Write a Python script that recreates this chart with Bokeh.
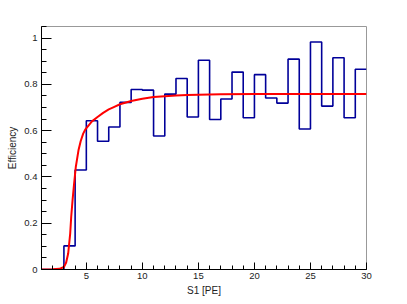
from bokeh.plotting import figure
from bokeh.embed import file_html
from bokeh.resources import INLINE
from bokeh.models import Range1d, FixedTicker

# Histogram: bin lower edges (width 1) and efficiency values
bin_edges = list(range(1, 31))
eff_values = [0.0, 0.0, 0.102, 0.43, 0.643, 0.554, 0.616, 0.722, 0.778, 0.775,
              0.577, 0.758, 0.825, 0.659, 0.904, 0.648, 0.737, 0.853, 0.656, 0.842,
              0.741, 0.719, 0.909, 0.607, 0.983, 0.706, 0.915, 0.656, 0.865]

# Fit curve, points
fit_x = [1.0, 2.0, 2.6, 3.0, 3.2, 3.38, 3.56, 3.65, 3.77, 3.91, 4.06, 4.3, 4.5,
         4.72, 4.9, 5.1, 5.5, 6.0, 6.5, 7.0, 7.5, 8.0, 9.0, 10.0, 11.0, 12.0,
         13.0, 14.0, 15.0, 17.0, 20.0, 25.0, 30.0]
fit_y = [0.0, 0.001, 0.003, 0.011, 0.03, 0.069, 0.155, 0.227, 0.299, 0.371,
         0.443, 0.515, 0.555, 0.587, 0.604, 0.616, 0.64, 0.659, 0.677, 0.692,
         0.703, 0.714, 0.728, 0.738, 0.745, 0.749, 0.752, 0.754, 0.755, 0.757,
         0.758, 0.758, 0.758]

x_major = [5, 10, 15, 20, 25, 30]
x_minor = list(range(1, 31))
y_major = [0, 0.2, 0.4, 0.6, 0.8, 1.0]
y_minor = [i * 0.05 for i in range(0, 22)]

p = figure(width=407, height=304, output_backend="svg", toolbar_location=None,
           x_range=Range1d(1, 30), y_range=Range1d(0, 1.05),
           min_border_left=41, min_border_right=41, min_border_top=26,
           min_border_bottom=35)
p.background_fill_color = "white"
p.border_fill_color = "white"
p.outline_line_color = "#999999"
p.outline_line_width = 1
p.xgrid.visible = False
p.ygrid.visible = False

hx = bin_edges
hy = eff_values + [eff_values[-1]]
p.step(hx, hy, mode="after", line_color="#000099", line_width=1.6)
p.line(fit_x, fit_y, line_color="#ff0000", line_width=2)

for ax, major, minor in ((p.xaxis[0], x_major, x_minor), (p.yaxis[0], y_major, y_minor)):
    ax.ticker = FixedTicker(ticks=major, minor_ticks=minor)
    ax.major_tick_in = 8
    ax.major_tick_out = 0
    ax.minor_tick_in = 4
    ax.minor_tick_out = 0
    ax.axis_line_color = "black"
    ax.major_tick_line_color = "black"
    ax.minor_tick_line_color = "black"
    ax.major_label_text_font = "Liberation Sans"
    ax.major_label_text_font_size = "9.5px"
    ax.major_label_text_color = "#222222"
    ax.axis_label_text_font = "Liberation Sans"
    ax.axis_label_text_font_size = "10px"
    ax.axis_label_text_font_style = "normal"
    ax.axis_label_text_color = "#222222"

p.xaxis[0].major_tick_in = 7
p.yaxis[0].major_tick_in = 10
p.yaxis[0].minor_tick_in = 5
p.xaxis.axis_label = "S1 [PE]"
p.yaxis.axis_label = "Efficiency"
p.xaxis.major_label_standoff = 3
p.yaxis.major_label_standoff = 4
p.xaxis.axis_label_standoff = 3
p.yaxis.axis_label_standoff = 3
p.yaxis.major_label_overrides = {0: "0", 0.2: "0.2", 0.4: "0.4", 0.6: "0.6", 0.8: "0.8", 1.0: "1"}

open("out.html", "w").write(file_html(p, INLINE))
